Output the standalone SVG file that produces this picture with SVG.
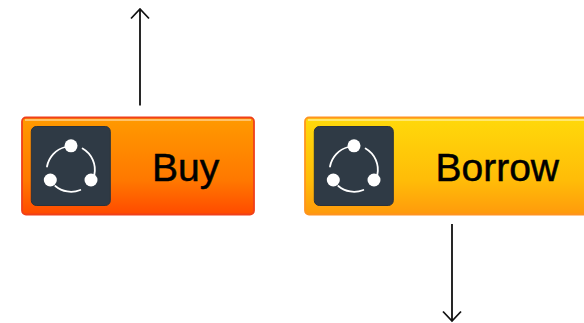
<svg xmlns="http://www.w3.org/2000/svg" width="584" height="323" viewBox="0 0 584 323">
<style>
.lbl{font-family:"Liberation Sans",Arial,sans-serif;font-size:39px;fill:#000;stroke:#000;stroke-width:.5}
.conn{fill:none;stroke:#111;stroke-width:1.800}
.tile{fill:#2f3a45;stroke:#2a323b;stroke-width:1}
.arc{fill:none;stroke:#fff;stroke-width:1.800;stroke-linecap:round}
.dot{fill:#fff}
.shine{fill:none;stroke:#fff;stroke-opacity:.55;stroke-width:1.500}
</style>
<defs>
<linearGradient id="g1" x1="0" y1="0" x2="0" y2="1"><stop offset="0" stop-color="#ff9a00"/><stop offset=".65" stop-color="#ff7800"/><stop offset="1" stop-color="#ff4a00"/></linearGradient>
<linearGradient id="g2" x1="0" y1="0" x2="0" y2="1"><stop offset="0" stop-color="#ffd90a"/><stop offset=".65" stop-color="#ffbc08"/><stop offset="1" stop-color="#ff9a0c"/></linearGradient>
<g id="icon">
<rect class="tile" x="0" y="0" width="79" height="79" rx="5"/>
<path class="arc" d="M15.700 40A24.500 24.500 0 0 1 34 20.500"/>
<path class="arc" d="M51.300 22A24.500 24.500 0 0 1 63 48.500"/>
<path class="arc" d="M24 59.500A24.500 24.500 0 0 0 49 63.500"/>
<circle class="dot" cx="39.700" cy="19.300" r="6.500"/>
<circle class="dot" cx="19" cy="53.500" r="6.500"/>
<circle class="dot" cx="59.700" cy="53.500" r="6.500"/>
</g>
</defs>
<g id="connectors">
<path class="conn" d="M140 105.500V9M131 18.500L140 9L149 18.500"/>
<path class="conn" d="M452 224V321M443 311.500L452 321L461 311.500"/>
</g>
<g id="buy">
<rect x="22" y="117.500" width="232" height="97" rx="4" fill="url(#g1)" stroke="#f0401a" stroke-width="1.800"/>
<path class="shine" d="M25 120H251"/>
<use href="#icon" x="31.300" y="126.500"/>
<text class="lbl" x="152" y="181">Buy</text>
</g>
<g id="borrow">
<rect x="305" y="117.500" width="290" height="97" rx="4" fill="url(#g2)" stroke="#ff9420" stroke-width="1.800"/>
<path class="shine" d="M308 120H590"/>
<use href="#icon" x="314.300" y="126.500"/>
<text class="lbl" x="435.500" y="181">Borrow</text>
</g>
</svg>
